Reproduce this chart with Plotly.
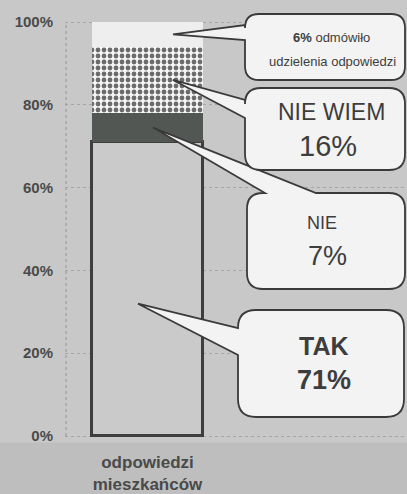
import plotly.graph_objects as go

# ---------------- data ----------------
categories = ["odpowiedzi mieszkańców"]
segments = ["TAK", "NIE", "NIE WIEM", "odmówiło udzielenia odpowiedzi"]
values = [71, 7, 16, 6]
y_ticks = [0, 20, 40, 60, 80, 100]
y_tick_labels = ["0%", "20%", "40%", "60%", "80%", "100%"]

# ---------------- layout geometry (pixels) ----------------
W, H = 407, 494
ML, MR, MT, MB = 65, 0, 5, 54
BAR_CX, PX_PER_X = 147.5, 111.0     # bar centre / 1 x-unit in px
Y0_PX, PX_PER_Y = 436.0, 4.14       # y=0 position / 1 y-unit in px

def px2x(px):
    return (px - BAR_CX) / PX_PER_X

def px2y(py):
    return (Y0_PX - py) / PX_PER_Y

x_range = [px2x(ML), px2x(W - MR)]
y_range = [px2y(H - MB), px2y(MT)]

FONT = "Liberation Sans, Arial, sans-serif"
TXT = "#3d3d3d"
BG = "#c8c8c8"

fig = go.Figure()

styles = [
    dict(color="#cacaca", line=dict(color="#3e3e3e", width=3)),
    dict(color="#535753", line=dict(color="#3e3e3e", width=0)),
    dict(color="#f2f2f2", line=dict(width=0),
         pattern=dict(shape=".", fillmode="replace", bgcolor="#f6f6f6",
                      fgcolor="#6c6c6c", size=6, solidity=0.5)),
    dict(color="#eeeeee", line=dict(width=0)),
]
for name, v, st in zip(segments, values, styles):
    fig.add_trace(go.Bar(x=[0], y=[v], name=name, width=1.0, marker=st,
                         hoverinfo="skip", showlegend=False))

shapes = []
annotations = []

# left dotted axis line (0..100)
shapes.append(dict(type="line", xref="paper", yref="y", x0=0.003, x1=0.003,
                   y0=y_ticks[0], y1=y_ticks[-1], layer="below",
                   line=dict(color="#959595", width=1, dash="dot")))
# darker band under the plot
shapes.append(dict(type="rect", xref="paper", yref="paper", x0=-0.2, x1=1.0,
                   y0=-0.2, y1=-0.006, layer="below", fillcolor="#bebebe",
                   line=dict(width=0)))

# segment tip positions from the data
cum = [0]
for v in values:
    cum.append(cum[-1] + v)
tip_frac = [0.45, 0.5, 0.5, 0.5]
tip_xpx = [138, 153, 173, 173]
tips = [(px2x(tip_xpx[i]), cum[i] + values[i] * tip_frac[i]) for i in range(4)]

# bubble boxes in px: (x0, y0, x1, y1, r, side, base_a, base_b)
bubbles = [
    (238, 310, 404, 417, 18, "left", 328, 355),   # TAK
    (247, 193, 405, 289, 16, "top", 265, 316),    # NIE
    (245, 88, 405, 170, 16, "left", 100, 118),    # NIE WIEM
    (245, 14, 405, 80, 14, "left", 25, 40),       # refused
]

def P(px, py):
    return f"{px2x(px):.5f},{px2y(py):.5f}"

for i, (x0, y0, x1, y1, r, side, a, b) in enumerate(bubbles):
    tx, ty = tips[i]
    tip = f"{tx:.5f},{ty:.5f}"
    d = f"M {P(x0 + r, y0)} "
    if side == "top":
        d += f"L {P(a, y0)} L {tip} L {P(b, y0)} "
    d += f"L {P(x1 - r, y0)} Q {P(x1, y0)} {P(x1, y0 + r)} "
    d += f"L {P(x1, y1 - r)} Q {P(x1, y1)} {P(x1 - r, y1)} "
    d += f"L {P(x0 + r, y1)} Q {P(x0, y1)} {P(x0, y1 - r)} "
    if side == "left":
        d += f"L {P(x0, b)} L {tip} L {P(x0, a)} "
    d += f"L {P(x0, y0 + r)} Q {P(x0, y0)} {P(x0 + r, y0)} Z"
    shapes.append(dict(type="path", xref="x", yref="y", path=d, layer="above",
                       fillcolor="#f3f3f3",
                       line=dict(color="#3a3a3a", width=1.8)))

# bubble texts (px centre x, y, text, size, bold)
texts = [
    (324, 346, segments[0], 25, True), (324, 380, f"{values[0]}%", 27, True),
    (322, 223, segments[1], 18, False), (327, 256, f"{values[1]}%", 27, False),
    (331, 112, segments[2], 23, False), (328, 146, f"{values[2]}%", 29, False),
    (331, 37, f"<b>{values[3]}%</b> " + segments[3].split(" ")[0], 13, False),
    (332, 61, " ".join(segments[3].split(" ")[1:]), 13, False),
]
for px, py, t, s, bold in texts:
    annotations.append(dict(x=px2x(px), y=px2y(py), xref="x", yref="y", text=t,
                            showarrow=False, xanchor="center", yanchor="middle",
                            font=dict(family=FONT, size=s, color=TXT,
                                      weight="bold" if bold else "normal")))

fig.update_layout(
    width=W, height=H,
    margin=dict(l=ML, r=MR, t=MT, b=MB, pad=0),
    paper_bgcolor=BG, plot_bgcolor=BG,
    barmode="stack", bargap=0,
    shapes=shapes, annotations=annotations,
    font=dict(family=FONT, color=TXT),
    xaxis=dict(range=x_range, tickvals=[0],
               ticktext=[c.replace(" ", "<br>") for c in categories],
               showgrid=False, zeroline=False, showline=False, ticks="",
               ticklabelstandoff=10,
               tickfont=dict(family=FONT, size=17, color="#4a4a4a", weight="bold")),
    yaxis=dict(range=y_range, tickvals=y_ticks, ticktext=y_tick_labels,
               showgrid=True, gridcolor="#a6a6a6", griddash="dot", gridwidth=1,
               zeroline=False, showline=False, ticks="", ticklabelstandoff=11,
               tickfont=dict(family=FONT, size=15, color="#4a4a4a", weight="bold")),
)

fig.write_html("out.html",
               config={"displayModeBar": False},
               post_script="document.body.style.margin='0';"
                           "document.body.style.overflow='hidden';")
